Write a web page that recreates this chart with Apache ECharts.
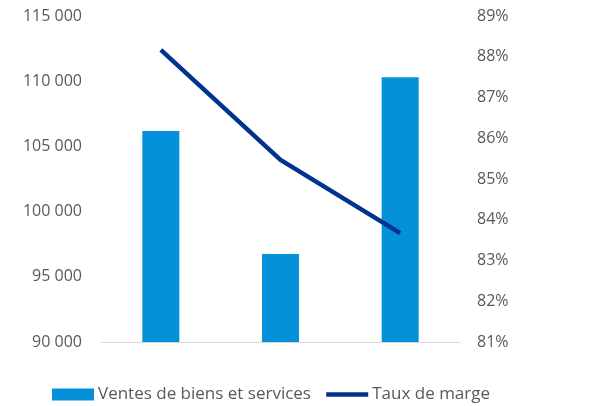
<!DOCTYPE html>
<html>
<head>
<meta charset="utf-8">
<script src="https://cdn.jsdelivr.net/npm/echarts@6/dist/echarts.min.js"></script>
<style>
  html, body { margin: 0; padding: 0; background: #fff; }
  #chart { width: 603px; height: 406px; }
</style>
</head>
<body>
<div id="chart"></div>
<script>
const categories = ['2019', '2020', '2021']
const ventes = [106180, 96750, 110300]
const tauxMarge = [88.17, 85.47, 83.67]

const chart = echarts.init(document.getElementById('chart'))

const fmtThousands = v => String(v).replace(/\B(?=(\d{3})+(?!\d))/g, ' ')

const option = {
  animation: false,
  textStyle: { fontFamily: 'Open Sans' },
  legend: {
    bottom: -2,
    left: 47,
    itemGap: 13,
    itemWidth: 42,
    itemHeight: 12,
    textStyle: { fontSize: 17, color: '#595959', padding: [0, 0, 0, -1] },
    data: [
      { name: 'Ventes de biens et services', icon: 'rect' },
      { name: 'Taux de marge', itemStyle: { opacity: 0 }, lineStyle: { width: 4.5 } }
    ]
  },
  grid: { left: 101, right: 143, top: 16, bottom: 64 },
  xAxis: {
    type: 'category',
    data: categories,
    axisLine: { lineStyle: { color: '#d9d9d9', width: 1 } },
    axisTick: { show: false },
    axisLabel: { show: false }
  },
  yAxis: [
    {
      type: 'value',
      min: 90000,
      max: 115000,
      interval: 5000,
      splitLine: { show: false },
      axisLine: { show: false },
      axisLabel: { color: '#595959', fontSize: 16, margin: 19, formatter: fmtThousands }
    },
    {
      type: 'value',
      min: 81,
      max: 89,
      interval: 1,
      splitLine: { show: false },
      axisLine: { show: false },
      axisLabel: { color: '#595959', fontSize: 16, margin: 17, formatter: '{value}%' }
    }
  ],
  series: [
    {
      name: 'Ventes de biens et services',
      type: 'bar',
      barWidth: 37,
      itemStyle: { color: '#0590DA' },
      data: ventes
    },
    {
      name: 'Taux de marge',
      type: 'line',
      yAxisIndex: 1,
      symbol: 'none',
      lineStyle: { color: '#00338D', width: 4.5 },
      itemStyle: { color: '#00338D' },
      data: tauxMarge
    }
  ]
}

chart.setOption(option)
</script>
</body>
</html>
